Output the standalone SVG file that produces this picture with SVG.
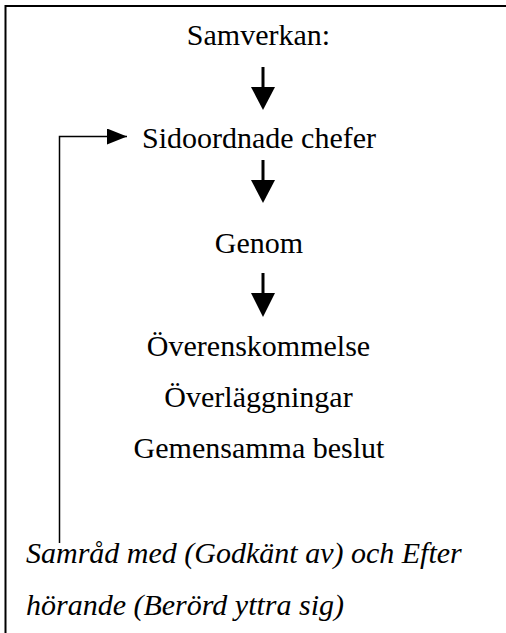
<svg xmlns="http://www.w3.org/2000/svg" width="506" height="633" viewBox="0 0 506 633">
  <style>
    text { font-family: 'Liberation Serif', 'DejaVu Serif', serif; font-size: 30px; fill: #000; }
    .c { text-anchor: middle; }
    .i { font-style: italic; }
    .frame { fill: none; stroke: #000; stroke-width: 2; }
    .shaft { stroke: #000; stroke-width: 3; }
    .thin { fill: none; stroke: #000; stroke-width: 1.5; }
  </style>
  <defs>
    <marker id="sideHead" markerUnits="userSpaceOnUse" markerWidth="20" markerHeight="16" refX="20" refY="8" orient="auto">
      <path d="M0,0 L20,8 L0,16 Z" fill="#000"/>
    </marker>
  </defs>

  <!-- outer frame (open to the right and bottom) -->
  <path class="frame" d="M5.5,633 L5.5,6 L506,6"/>

  <g id="samverkan"><text class="c" x="258.5" y="45">Samverkan:</text></g>
  <g id="sidoordnade"><text class="c" x="259" y="148">Sidoordnade chefer</text></g>
  <g id="genom"><text class="c" x="259" y="253">Genom</text></g>
  <g id="former">
    <text class="c" x="258.5" y="356">Överenskommelse</text>
    <text class="c" x="258.5" y="407">Överläggningar</text>
    <text class="c" x="259" y="458">Gemensamma beslut</text>
  </g>
  <g id="samrad">
    <text class="i" x="26" y="563">Samråd med (Godkänt av) och Efter</text>
    <text class="i" x="26" y="615">hörande (Berörd yttra sig)</text>
  </g>

  <g id="connectors">
    <line class="shaft" x1="263" y1="67" x2="263" y2="90"/>
    <path d="M251,87 L275,87 L263,110 Z"/>
    <line class="shaft" x1="263" y1="160" x2="263" y2="183"/>
    <path d="M251,180 L275,180 L263,203 Z"/>
    <line class="shaft" x1="263" y1="273" x2="263" y2="296"/>
    <path d="M251,293 L275,293 L263,317 Z"/>
    <path class="thin" d="M59.5,543 L59.5,136.5 L127,136.5" marker-end="url(#sideHead)"/>
  </g>
</svg>
